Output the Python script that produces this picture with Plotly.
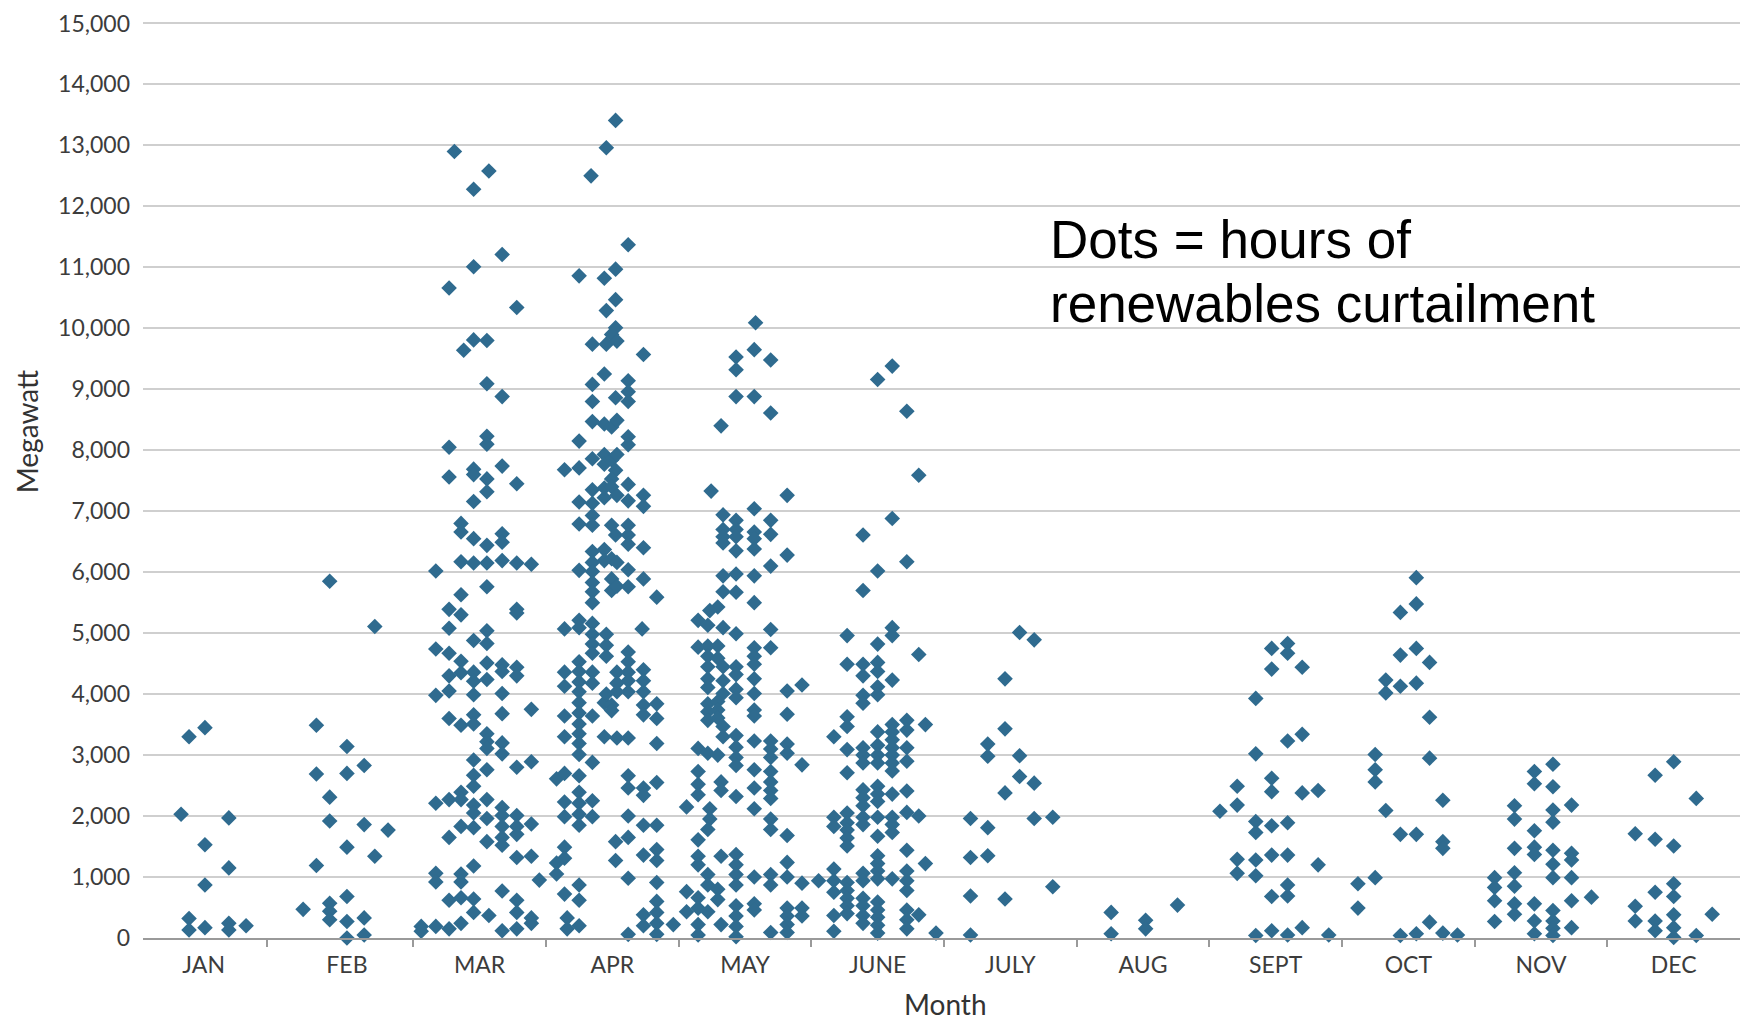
import plotly.graph_objects as go

# ---------------- data ----------------
months = ["JAN", "FEB", "MAR", "APR", "MAY", "JUNE", "JULY", "AUG", "SEPT", "OCT", "NOV", "DEC"]

# each entry: (horizontal jitter within the month, megawatt value)
jan = [(-0.25, 2030), (-0.19, 3300), (-0.07, 3450), (-0.07, 1530), (-0.07, 870), (-0.19, 320), (-0.19, 130),
       (-0.07, 170), (0.11, 1970), (0.11, 1150), (0.11, 240), (0.11, 130), (0.24, 200)]

feb = [(-0.13, 5850), (0.21, 5110), (-0.23, 3490), (0.0, 3140), (-0.23, 2690), (0.0, 2700), (0.13, 2830),
       (-0.13, 2310), (-0.13, 1920), (0.13, 1860), (0.31, 1770), (0.0, 1490), (0.21, 1340), (-0.23, 1190),
       (0.0, 680), (-0.33, 470), (-0.13, 570), (-0.13, 440), (-0.13, 300), (0.0, 270), (0.13, 330), (0.0, 0),
       (0.13, 50)]

mar = [(-0.19, 12900), (0.07, 12580), (-0.045, 12280), (0.17, 11210), (-0.045, 11010), (-0.23, 10660),
       (0.28, 10340), (-0.045, 9810), (-0.12, 9640), (0.055, 9800), (0.055, 9090), (0.17, 8880),
       (-0.23, 8050), (0.055, 8230), (0.055, 8100), (-0.23, 7560), (-0.045, 7690), (-0.045, 7600),
       (0.17, 7740), (0.055, 7530), (0.055, 7320), (0.28, 7450), (-0.045, 7160), (-0.14, 6800), (-0.14, 6660),
       (-0.045, 6550), (0.055, 6440), (0.17, 6630), (0.17, 6490), (-0.14, 6170), (-0.045, 6150), (0.055, 6150),
       (0.17, 6190), (0.28, 6150), (0.39, 6130), (-0.33, 6020), (0.055, 5760), (-0.14, 5630), (0.28, 5390),
       (0.28, 5330), (-0.23, 5390), (-0.14, 5300), (-0.23, 5080), (-0.045, 4880), (0.055, 5040), (0.055, 4830),
       (-0.33, 4740), (-0.23, 4670), (-0.14, 4540), (-0.14, 4350), (-0.045, 4360), (-0.045, 4210), (0.055, 4510),
       (0.055, 4240), (0.17, 4480), (0.17, 4370), (0.28, 4440), (0.28, 4300), (-0.23, 4300), (-0.23, 4050),
       (-0.33, 3980), (-0.045, 3990), (0.17, 4010), (-0.23, 3600), (-0.14, 3490), (-0.045, 3660), (-0.045, 3510),
       (0.17, 3680), (0.39, 3750), (0.055, 3350), (0.055, 3220), (0.055, 3110), (0.17, 3200), (0.17, 3020),
       (-0.045, 2920), (-0.045, 2670), (-0.045, 2490), (0.055, 2760), (0.28, 2800), (0.39, 2890),
       (-0.33, 2210), (-0.23, 2270), (-0.14, 2390), (-0.14, 2270), (-0.045, 2180), (-0.045, 2050), (0.055, 2270),
       (0.055, 1960), (0.17, 2140), (0.17, 2010), (0.17, 1830), (0.17, 1650), (0.17, 1520), (0.28, 2010),
       (0.28, 1830), (0.28, 1700), (0.39, 1870), (-0.23, 1650), (-0.14, 1830), (-0.045, 1810), (0.055, 1580),
       (0.28, 1320), (0.39, 1340), (-0.045, 1180), (-0.33, 1060), (-0.33, 920), (-0.14, 1050), (-0.14, 920),
       (0.45, 950), (-0.23, 620), (-0.14, 660), (-0.045, 640), (-0.045, 420), (0.17, 770), (0.28, 620),
       (0.28, 420), (0.39, 330), (0.39, 240), (0.07, 370), (-0.44, 190), (-0.44, 110), (-0.33, 190),
       (-0.23, 150), (-0.14, 240), (0.17, 120), (0.28, 150)]

apr = [(0.025, 13410), (-0.045, 12960), (-0.16, 12500), (0.12, 11370), (-0.25, 10860), (-0.06, 10820),
       (0.025, 10970), (0.025, 10470), (-0.045, 10290), (0.025, 10010), (-0.005, 9900), (-0.15, 9740),
       (-0.045, 9740), (0.035, 9790), (0.235, 9570), (-0.06, 9250), (-0.15, 9080), (0.12, 9140), (0.12, 8960),
       (0.12, 8800), (-0.15, 8800), (0.025, 8860), (-0.15, 8470), (-0.06, 8430), (-0.005, 8380), (0.035, 8490),
       (0.12, 8220), (0.12, 8090), (-0.25, 8150), (-0.15, 7860), (-0.06, 7930), (-0.06, 7770), (-0.005, 7840),
       (0.025, 7670), (-0.005, 7530), (0.035, 7930), (-0.36, 7680), (-0.25, 7710), (-0.15, 7350), (-0.06, 7220),
       (-0.06, 7380), (-0.005, 7400), (0.035, 7260), (0.12, 7440), (0.12, 7170), (0.235, 7260), (0.235, 7080),
       (-0.25, 7150), (-0.15, 7130), (-0.15, 6930), (-0.25, 6790), (-0.15, 6770), (-0.005, 6770), (0.025, 6610),
       (0.12, 6770), (0.12, 6610), (0.12, 6460), (0.235, 6400), (-0.15, 6340), (-0.06, 6370), (-0.06, 6190),
       (-0.005, 6220), (0.035, 6160), (-0.15, 6160), (-0.25, 6030), (-0.15, 6010), (-0.15, 5830), (-0.15, 5680),
       (-0.15, 5500), (-0.005, 5890), (-0.005, 5700), (0.035, 5770), (0.12, 6040), (0.12, 5760), (0.235, 5890),
       (0.335, 5590), (-0.25, 5210), (-0.36, 5070), (-0.25, 5090), (-0.15, 5160), (-0.15, 4980), (-0.15, 4820),
       (-0.15, 4670), (-0.045, 4980), (-0.045, 4800), (-0.045, 4620), (0.225, 5070), (0.12, 4690), (0.12, 4530),
       (0.12, 4360), (0.12, 4220), (0.12, 4040), (0.035, 4360), (0.035, 4180), (0.035, 4040), (0.235, 4400),
       (0.235, 4220), (0.235, 4040), (0.235, 3820), (0.235, 3660), (-0.25, 4530), (-0.25, 4370), (-0.25, 4200),
       (-0.25, 4040), (-0.25, 3860), (-0.25, 3690), (-0.25, 3510), (-0.25, 3350), (-0.25, 3190), (-0.25, 3010),
       (-0.36, 4360), (-0.36, 4130), (-0.36, 3640), (-0.36, 3300), (-0.15, 4360), (-0.15, 4180), (-0.15, 3640),
       (-0.06, 3860), (-0.045, 4000), (-0.005, 3820), (-0.005, 3730), (0.035, 3280), (-0.06, 3300), (0.12, 3280),
       (0.335, 3840), (0.335, 3600), (0.335, 3190), (-0.15, 2880), (-0.42, 2610), (-0.36, 2700), (-0.25, 2660),
       (0.12, 2660), (0.12, 2460), (0.235, 2460), (0.235, 2340), (0.335, 2550), (-0.25, 2390), (-0.25, 2210),
       (-0.25, 2030), (-0.25, 1850), (-0.36, 2230), (-0.36, 1990), (-0.15, 2250), (-0.15, 1990), (0.12, 2000),
       (0.235, 1850), (0.335, 1850), (0.12, 1650), (0.025, 1580), (0.025, 1270), (-0.36, 1490), (-0.36, 1310),
       (-0.42, 1230), (-0.42, 1050), (0.235, 1360), (0.335, 1450), (0.335, 1270), (0.12, 980), (0.335, 910),
       (-0.36, 720), (-0.25, 870), (-0.25, 620), (-0.34, 330), (-0.34, 150), (-0.25, 200), (0.12, 60),
       (0.235, 380), (0.235, 200), (0.335, 600), (0.335, 420), (0.335, 240), (0.335, 60), (0.46, 220)]

may = [(0.08, 10090), (0.07, 9650), (-0.067, 9530), (-0.067, 9320), (0.194, 9480), (-0.067, 8880), (0.07, 8880),
       (0.194, 8610), (-0.18, 8400), (-0.255, 7330), (0.318, 7260), (-0.165, 6940), (-0.067, 6850), (0.07, 7040),
       (0.194, 6850), (-0.165, 6700), (-0.165, 6580), (-0.165, 6480), (-0.067, 6700), (-0.067, 6580),
       (-0.067, 6350), (0.07, 6660), (0.07, 6550), (0.07, 6380), (0.194, 6620), (0.318, 6280), (0.194, 6100),
       (-0.165, 5940), (-0.067, 5970), (0.07, 5940), (-0.165, 5680), (-0.067, 5670), (-0.205, 5430), (0.07, 5500),
       (-0.353, 5210), (-0.265, 5370), (-0.28, 5130), (-0.165, 5090), (-0.067, 4990), (0.194, 5060),
       (-0.353, 4770), (-0.28, 4790), (-0.28, 4620), (-0.205, 4790), (-0.205, 4590), (-0.28, 4450),
       (-0.165, 4450), (0.07, 4760), (0.07, 4620), (0.07, 4490), (0.194, 4760), (-0.067, 4450), (-0.067, 4320),
       (-0.28, 4250), (-0.28, 4110), (-0.165, 4220), (-0.165, 4010), (-0.067, 4080), (-0.067, 3940), (0.07, 4250),
       (0.07, 4010), (-0.28, 3840), (-0.28, 3710), (-0.28, 3570), (-0.205, 3880), (-0.205, 3740), (-0.205, 3610),
       (-0.165, 3470), (-0.165, 3300), (0.07, 3740), (0.07, 3640), (0.318, 4050), (0.43, 4150), (0.318, 3670),
       (-0.353, 3110), (-0.28, 3030), (-0.205, 3000), (-0.067, 3320), (-0.067, 3130), (-0.067, 2960),
       (-0.067, 2830), (0.07, 3230), (0.194, 3230), (0.194, 3100), (0.194, 2960), (0.318, 3180), (0.318, 3030),
       (0.43, 2840), (-0.353, 2730), (-0.353, 2520), (-0.353, 2350), (-0.18, 2560), (-0.18, 2420), (0.07, 2760),
       (0.07, 2460), (-0.067, 2320), (0.194, 2730), (0.194, 2560), (0.194, 2420), (0.194, 2290), (-0.44, 2150),
       (-0.265, 2120), (-0.265, 1950), (0.07, 2120), (-0.28, 1780), (-0.353, 1610), (0.194, 1950), (0.194, 1780),
       (0.318, 1680), (-0.353, 1340), (-0.353, 1200), (-0.18, 1340), (-0.067, 1370), (-0.067, 1200),
       (-0.067, 1040), (-0.067, 870), (-0.28, 1040), (-0.28, 870), (0.07, 1000), (0.194, 1040), (0.194, 870),
       (0.318, 1240), (0.318, 1000), (0.43, 900), (-0.44, 760), (-0.353, 660), (-0.353, 490), (-0.205, 800),
       (-0.205, 630), (-0.28, 430), (-0.44, 430), (-0.18, 220), (-0.353, 220), (-0.353, 50), (-0.067, 530),
       (-0.067, 360), (-0.067, 190), (-0.067, 20), (0.07, 560), (0.07, 460), (0.194, 90), (0.318, 490),
       (0.318, 360), (0.318, 220), (0.318, 90), (0.43, 490), (0.43, 360)]

jun = [(0.11, 9380), (0.0, 9160), (0.22, 8640), (0.31, 7590), (0.11, 6880), (-0.11, 6610), (0.22, 6170),
       (0.0, 6020), (-0.11, 5700), (-0.23, 4960), (0.11, 5090), (0.11, 4960), (0.0, 4820), (0.31, 4650),
       (-0.23, 4490), (-0.11, 4490), (-0.11, 4300), (0.0, 4520), (0.0, 4370), (0.11, 4230), (-0.11, 3980),
       (-0.11, 3850), (0.0, 4120), (0.0, 3990), (-0.23, 3630), (-0.23, 3470), (-0.33, 3300), (0.11, 3500),
       (0.22, 3570), (0.36, 3500), (0.0, 3380), (0.11, 3380), (0.11, 3250), (0.22, 3410), (-0.23, 3090),
       (-0.11, 3120), (-0.11, 3000), (-0.11, 2870), (0.0, 3160), (0.0, 3000), (0.0, 2870), (0.11, 3120),
       (0.11, 3000), (0.11, 2870), (0.11, 2740), (0.22, 3120), (0.22, 2900), (-0.23, 2710), (-0.11, 2430),
       (-0.11, 2300), (-0.11, 2170), (0.0, 2490), (0.0, 2360), (0.0, 2240), (0.11, 2360), (0.22, 2410),
       (0.22, 2060), (0.31, 2000), (-0.33, 1980), (-0.33, 1830), (-0.23, 2050), (-0.23, 1890), (-0.23, 1770),
       (-0.23, 1640), (-0.23, 1510), (-0.11, 1980), (-0.11, 1860), (0.0, 1980), (0.0, 1670), (0.11, 1980),
       (0.11, 1860), (0.11, 1730), (0.22, 1440), (0.36, 1220), (0.0, 1350), (0.0, 1220), (0.0, 1100), (0.0, 970),
       (-0.11, 1060), (-0.11, 940), (0.11, 970), (0.22, 1100), (0.22, 940), (0.22, 780), (-0.33, 1130),
       (-0.33, 940), (-0.33, 750), (-0.445, 940), (-0.23, 910), (-0.23, 780), (-0.23, 650), (-0.23, 530),
       (-0.23, 400), (-0.11, 650), (-0.11, 530), (-0.11, 370), (-0.11, 240), (0.0, 590), (0.0, 460), (0.0, 340),
       (0.0, 210), (0.0, 80), (-0.33, 370), (-0.33, 110), (0.22, 460), (0.22, 300), (0.31, 380), (0.22, 150),
       (0.44, 80)]

jul = [(0.07, 5010), (0.18, 4890), (-0.04, 4250), (-0.04, 3430), (-0.17, 3180), (-0.17, 2980), (0.07, 2990),
       (0.07, 2650), (0.18, 2540), (-0.04, 2380), (-0.30, 1960), (0.18, 1960), (0.32, 1980), (-0.17, 1810),
       (-0.30, 1320), (-0.17, 1350), (0.32, 840), (-0.30, 690), (-0.04, 640), (-0.30, 50)]

aug = [(-0.24, 420), (-0.24, 70), (0.02, 290), (0.02, 150), (0.26, 540)]

sep = [(-0.03, 4750), (0.09, 4830), (0.09, 4670), (-0.03, 4410), (0.20, 4440), (-0.15, 3930), (0.20, 3340),
       (0.09, 3230), (-0.15, 3020), (-0.29, 2490), (-0.03, 2620), (-0.03, 2400), (0.20, 2380), (0.32, 2420),
       (-0.29, 2180), (-0.42, 2080), (-0.15, 1910), (-0.15, 1730), (-0.03, 1840), (0.09, 1890), (-0.29, 1290),
       (-0.29, 1060), (-0.15, 1280), (-0.15, 1020), (-0.03, 1360), (0.09, 1360), (0.32, 1200), (0.09, 870),
       (0.09, 690), (-0.03, 680), (-0.15, 40), (-0.03, 120), (0.09, 50), (0.20, 170), (0.40, 50)]

oct_ = [(0.06, 5910), (0.06, 5480), (-0.06, 5340), (0.06, 4750), (-0.06, 4640), (0.16, 4520), (-0.17, 4230),
        (-0.17, 4020), (-0.06, 4130), (0.06, 4180), (0.16, 3620), (-0.25, 3010), (-0.25, 2760), (-0.25, 2560),
        (0.16, 2950), (0.26, 2260), (-0.17, 2090), (-0.06, 1700), (0.06, 1700), (0.26, 1580), (0.26, 1470),
        (-0.38, 890), (-0.25, 990), (-0.38, 490), (-0.06, 40), (0.06, 70), (0.16, 260), (0.26, 80), (0.37, 50)]

nov = [(0.09, 2850), (-0.05, 2730), (-0.05, 2530), (0.09, 2480), (0.23, 2180), (-0.20, 2170), (-0.20, 1950),
       (0.09, 2100), (0.09, 1900), (-0.05, 1760), (-0.20, 1470), (-0.05, 1490), (-0.05, 1370), (0.09, 1440),
       (0.09, 1210), (0.09, 990), (0.23, 1390), (0.23, 1280), (0.23, 990), (-0.20, 1070), (-0.20, 850),
       (-0.35, 990), (-0.35, 830), (-0.35, 610), (-0.35, 270), (-0.20, 560), (-0.20, 390), (-0.05, 560),
       (-0.05, 280), (-0.05, 70), (0.09, 450), (0.09, 280), (0.09, 160), (0.09, 40), (0.23, 610), (0.23, 170),
       (0.38, 670)]

dec = [(0.0, 2890), (-0.14, 2670), (0.17, 2290), (-0.29, 1710), (-0.14, 1620), (0.0, 1510), (0.0, 890),
       (0.0, 680), (-0.14, 750), (-0.29, 520), (-0.29, 280), (-0.14, 280), (-0.14, 120), (0.0, 380), (0.0, 170),
       (0.0, 10), (0.17, 40), (0.29, 390)]

month_points = [jan, feb, mar, apr, may, jun, jul, aug, sep, oct_, nov, dec]

y_ticks = list(range(0, 15001, 1000))

# ---------------- figure ----------------
xs, ys = [], []
for i, pts in enumerate(month_points):
    for off, val in pts:
        xs.append(i + off)
        ys.append(val)

fig = go.Figure()
fig.add_trace(go.Scatter(
    x=xs, y=ys, mode="markers",
    marker=dict(symbol="diamond", size=12, color="#2f6b8f", line=dict(width=0)),
    cliponaxis=False, showlegend=False, hoverinfo="y",
))

label_pos = [-0.08] + list(range(1, 12))
divider_pos = [0.395] + [k + 0.5 for k in range(1, 11)]

tick_font = dict(family="Lato, 'Open Sans', sans-serif", size=23, color="#3c3c3c")
title_font = dict(family="Lato, 'Open Sans', sans-serif", size=28, color="#333333")
note_font = dict(family="'Liberation Sans', Arial, sans-serif", size=53, color="#000000")

# the page body has an 8px margin, so the figure is 8px smaller and shifted accordingly
fig.update_layout(
    width=1740, height=1014,
    margin=dict(l=135, r=0, t=10, b=84),
    paper_bgcolor="white", plot_bgcolor="white",
    showlegend=False,
    xaxis=dict(
        range=[-0.537, 11.56],
        tickmode="array", tickvals=label_pos, ticktext=months,
        ticks="", showgrid=False, zeroline=False,
        showline=True, linecolor="#9a9a9a", linewidth=2,
        tickfont=tick_font, ticklabelstandoff=5,
        minor=dict(tickmode="array", tickvals=divider_pos, ticks="outside",
                   ticklen=7, tickwidth=2, tickcolor="#9a9a9a", showgrid=False),
    ),
    yaxis=dict(
        range=[0, 15040],
        tickmode="array", tickvals=y_ticks, tickformat=",d",
        ticks="", showgrid=True, gridcolor="#cfcfcf", gridwidth=1.5,
        zeroline=False, showline=False, ticklabeloverflow="allow",
        tickfont=tick_font, ticklabelstandoff=12,
    ),
    annotations=[
        dict(text="Month", x=0.5, y=-0.0717, xref="paper", yref="paper",
             xanchor="center", yanchor="middle", showarrow=False, font=title_font),
        dict(text="Megawatt", x=-0.0725, y=0.5522, xref="paper", yref="paper", textangle=-90,
             xanchor="center", yanchor="middle", showarrow=False, font=title_font),
        dict(text="Dots = hours of", x=0.5639, y=0.7614, xref="paper", yref="paper",
             xanchor="left", yanchor="middle", showarrow=False, font=note_font),
        dict(text="renewables curtailment", x=0.5639, y=0.6918, xref="paper", yref="paper",
             xanchor="left", yanchor="middle", showarrow=False, font=note_font),
    ],
)

fig.write_html("out.html")
